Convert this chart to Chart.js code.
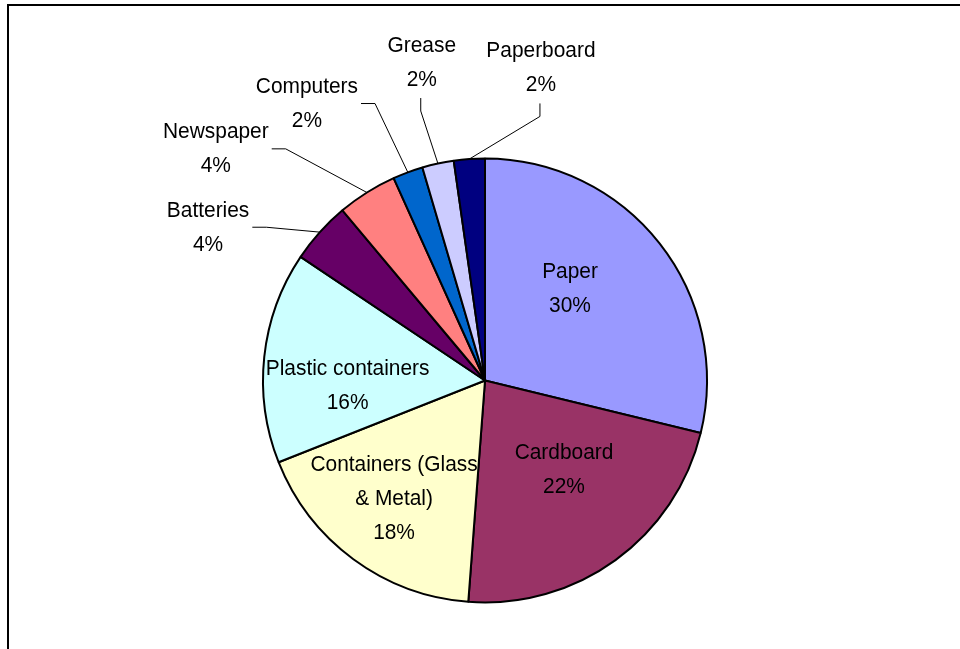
<!DOCTYPE html>
<html>
<head>
    <title>Recycled Materials Pie</title>
    <script src="https://cdn.jsdelivr.net/npm/chart.js@4.4.0/dist/chart.umd.min.js"></script>
    <style>
        body { margin: 0; background: #fff; }
    </style>
</head>
<body>

<canvas id="materialsChart" width="960" height="649"></canvas>

<script>
    // values (share of the whole, in percent)
    var categories = ['Paper', 'Cardboard', 'Containers (Glass & Metal)', 'Plastic containers',
                      'Batteries', 'Newspaper', 'Computers', 'Grease', 'Paperboard'];
    var shares = [28.8, 22.4, 17.8, 15.4, 4.5, 4.35, 2.2, 2.3, 2.25];
    var pctLabels = ['30%', '22%', '18%', '16%', '4%', '4%', '2%', '2%', '2%'];
    var sliceColors = ['#9999FF', '#993366', '#FFFFCC', '#CCFFFF', '#660066',
                       '#FF8080', '#0066CC', '#CCCCFF', '#000080'];

    // how each label is laid out: text lines, polar spot (deg from top, fraction of radius), leader
    var labelLayout = [
        { lines: ['Paper'], ang: 42.4, r: 0.568 },
        { lines: ['Cardboard'], ang: 137.9, r: 0.531 },
        { lines: ['Containers (Glass', '& Metal)'], ang: 217.9, r: 0.667 },
        { lines: ['Plastic containers'], ang: 268.5, r: 0.619 },
        { lines: ['Batteries'], ang: 299.2, r: 1.429, leader: 'right' },
        { lines: ['Newspaper'], ang: 310.9, r: 1.604, leader: 'right' },
        { lines: ['Computers'], ang: 327.4, r: 1.489, leader: 'right' },
        { lines: ['Grease'], ang: 348.8, r: 1.467, leader: 'bottom' },
        { lines: ['Paperboard'], ang: 10.1, r: 1.437, leader: 'bottom' }
    ];

    var FONT = '22px "Liberation Sans", Arial, sans-serif';
    var SQUEEZE = 0.95;
    var STEP = 34;

    var framePlugin = {
        id: 'frame',
        beforeDraw: function (chart) {
            var c = chart.ctx;
            c.save();
            c.fillStyle = '#fff';
            c.fillRect(0, 0, chart.width, chart.height);
            c.fillStyle = '#000';
            c.fillRect(7, 4, chart.width - 7, 2);
            c.fillRect(7, 4, 2, chart.height - 4);
            c.restore();
        }
    };

    var labelPlugin = {
        id: 'sliceLabels',
        afterDatasetsDraw: function (chart) {
            var c = chart.ctx;
            var arcs = chart.getDatasetMeta(0).data;
            c.save();
            c.font = FONT;
            c.fillStyle = '#000';
            c.strokeStyle = '#000';
            c.lineWidth = 1;
            c.textAlign = 'center';
            arcs.forEach(function (arc, i) {
                var cx = arc.x, cy = arc.y, R = arc.outerRadius;
                var lay = labelLayout[i];
                var lines = lay.lines.concat([pctLabels[i]]);
                var a = lay.ang * Math.PI / 180;
                var tx = cx + Math.sin(a) * R * lay.r;
                var ty = cy - Math.cos(a) * R * lay.r;
                var top = ty - (lines.length - 1) * STEP / 2;
                var widest = 0;
                lines.forEach(function (t, k) {
                    widest = Math.max(widest, c.measureText(t).width * SQUEEZE);
                    c.save();
                    c.translate(tx, top + k * STEP + 8);
                    c.scale(SQUEEZE, 1);
                    c.fillText(t, 0, 0);
                    c.restore();
                });
                if (lay.leader) {
                    var mid = (arc.startAngle + arc.endAngle) / 2;
                    var ex = cx + Math.cos(mid) * R;
                    var ey = cy + Math.sin(mid) * R;
                    var sx, sy, bx, by;
                    if (lay.leader === 'bottom') {
                        var bottom = top + (lines.length - 1) * STEP + 8;
                        sx = tx - 1; sy = bottom + 12;
                        bx = sx; by = sy + 13;
                    } else {
                        sx = tx + widest / 2 + 3; sy = ty + 1.5;
                        bx = sx + 14; by = sy;
                    }
                    c.beginPath();
                    c.moveTo(sx, sy);
                    c.lineTo(bx, by);
                    c.lineTo(ex, ey);
                    c.stroke();
                }
            });
            c.restore();
        }
    };

    var ctx = document.getElementById('materialsChart').getContext('2d');
    var chart = new Chart(ctx, {
        type: 'pie',
        data: {
            labels: categories,
            datasets: [{
                data: shares,
                backgroundColor: sliceColors,
                borderColor: '#000',
                borderWidth: 2
            }]
        },
        options: {
            responsive: false,
            animation: false,
            radius: 222,
            layout: { padding: { left: 263, right: 253, top: 159, bottom: 47 } },
            plugins: {
                legend: { display: false },
                tooltip: { enabled: false }
            }
        },
        plugins: [framePlugin, labelPlugin]
    });
</script>
</body>
</html>
